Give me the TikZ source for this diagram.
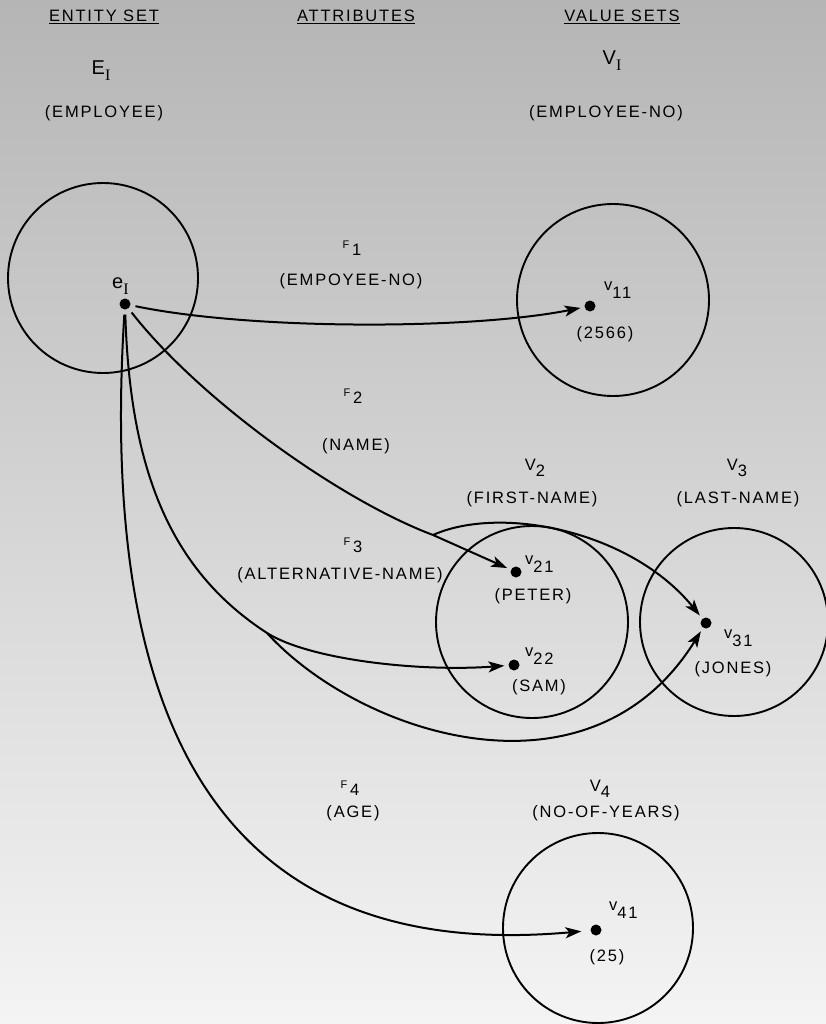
\documentclass[tikz,border=0pt]{standalone}
\usepackage{fontspec}
\setmainfont{Liberation Sans}[LetterSpace=11]
\newfontfamily\serifI{Liberation Serif}
\usetikzlibrary{arrows.meta}

\definecolor{bgtop}{RGB}{181,181,181}
\definecolor{bgbot}{RGB}{244,244,244}

\newcommand{\Fsub}[1]{\raisebox{7pt}{\fontsize{11}{11}\selectfont F}\,#1}
\newcommand{\Vsub}[1]{V\raisebox{-6pt}{#1}}
\newcommand{\vsub}[1]{\raisebox{8pt}{v}#1}
\newcommand{\Isub}{\raisebox{-6pt}{\fontsize{16}{16}\selectfont\serifI I}}

\begin{document}
\begin{tikzpicture}[x=1pt, y=-1pt,
    every node/.style={font=\fontsize{16.5}{19}\selectfont, inner sep=0pt},
    setc/.style={draw, circle, line width=1.9pt},
    valdot/.style={circle, fill=black, minimum size=11pt},
    link/.style={line width=2pt},
    fromdot/.style={shorten <=5pt},
    tip/.style={-{Stealth[length=16pt, width=11pt, inset=4pt]}, shorten >=4pt}]

    \shade [top color=bgtop, bottom color=bgbot] (0,0) rectangle (826,1024);
    \useasboundingbox (0,0) rectangle (826,1024);

    \node (hES) at (104,22) [anchor=base] {\underline{ENTITY SET}};
    \node (hAT) at (356,22) [anchor=base] {\underline{ATTRIBUTES}};
    \node (hVS) at (622,22) [anchor=base] {\underline{VALUE SETS}};

    \node (Elab) at (101,75) [anchor=base] {\fontsize{20}{20}\selectfont E\Isub};
    \node (Ename) at (104,118) [anchor=base] {(EMPLOYEE)};
    \node (V1lab) at (612,65) [anchor=base] {\fontsize{20}{20}\selectfont V\Isub};
    \node (V1name) at (606,118) [anchor=base] {(EMPLOYEE-NO)};

    \node [setc, minimum size=190pt] (Ec) at (103,278) {};
    \node [setc, minimum size=192pt] (V1c) at (613,300) {};
    \node [setc, minimum size=192pt] (V2c) at (532,622) {};
    \node [setc, minimum size=188pt] (V3c) at (734,622) {};
    \node [setc, minimum size=190pt] (V4c) at (598,928) {};

    \node [valdot] (ent) at (125,304) {};
    \node (entlab) at (112,288) [anchor=base west] {\fontsize{20}{20}\selectfont e\Isub};

    \node [valdot] (v11) at (590,306) {};
    \node (v11lab) at (604,298) [anchor=base west] {\vsub{11}};
    \node (v11val) at (605,338) [anchor=base] {(2566)};

    \node [valdot] (v21) at (516,572) {};
    \node (v21lab) at (525,572) [anchor=base west] {\vsub{21}};
    \node (v21val) at (533,600) [anchor=base] {(PETER)};

    \node [valdot] (v22) at (514,665) {};
    \node (v22lab) at (525,664) [anchor=base west] {\vsub{22}};
    \node (v22val) at (539,691) [anchor=base] {(SAM)};

    \node [valdot] (v31) at (706,623) {};
    \node (v31lab) at (724,646) [anchor=base west] {\vsub{31}};
    \node (v31val) at (733,673) [anchor=base] {(JONES)};

    \node [valdot] (v41) at (596,930) {};
    \node (v41lab) at (609,918) [anchor=base west] {\vsub{41}};
    \node (v41val) at (607,961) [anchor=base] {(25)};

    \node (F1) at (352,255) [anchor=base] {\Fsub{1}};
    \node (F1name) at (351,285) [anchor=base] {(EMPOYEE-NO)};
    \node (F2) at (353,403) [anchor=base] {\Fsub{2}};
    \node (F2name) at (356,450) [anchor=base] {(NAME)};
    \node (F3) at (353,552) [anchor=base] {\Fsub{3}};
    \node (F3name) at (340,579) [anchor=base] {(ALTERNATIVE-NAME)};
    \node (F4) at (350,795) [anchor=base] {\Fsub{4}};
    \node (F4name) at (353,817) [anchor=base] {(AGE)};

    \node (V2lab) at (535,470) [anchor=base] {\Vsub{2}};
    \node (V2name) at (532,503) [anchor=base] {(FIRST-NAME)};
    \node (V3lab) at (737,470) [anchor=base] {\Vsub{3}};
    \node (V3name) at (738,503) [anchor=base] {(LAST-NAME)};
    \node (V4lab) at (600,791) [anchor=base] {\Vsub{4}};
    \node (V4name) at (606,817) [anchor=base] {(NO-OF-YEARS)};

    \coordinate (b2) at (433,535);
    \coordinate (b3) at (267,633);

    \draw [link, fromdot, tip] (ent) .. controls (250,330) and (470,330) .. (v11);
    \draw [link, fromdot] (ent) .. controls (200,400) and (340,500) .. (b2);
    \draw [link, tip] (b2) -- (v21);
    \draw [link, tip] (b2) .. controls (500,505) and (630,530) .. (v31);
    \draw [link, fromdot] (ent) .. controls (130,470) and (170,570) .. (b3);
    \draw [link, tip] (b3) .. controls (310,660) and (420,672) .. (v22);
    \draw [link, tip] (b3) .. controls (360,735) and (590,810) .. (v31);
    \draw [link, fromdot, tip, shorten >=9pt] (ent) .. controls (95,780) and (260,960) .. (v41);
\end{tikzpicture}
\end{document}
